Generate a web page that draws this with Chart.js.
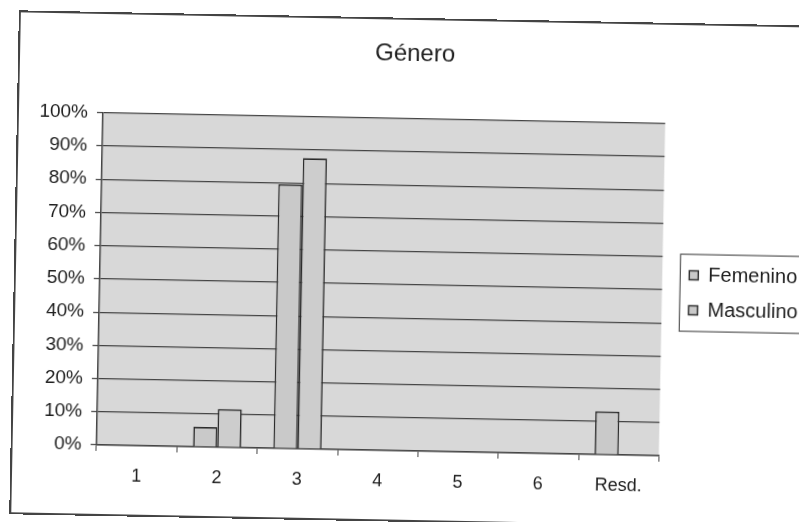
<!DOCTYPE html>
<html>
<head>
<meta charset="utf-8">
<script src="https://cdn.jsdelivr.net/npm/chart.js@4/dist/chart.umd.min.js"></script>
<style>
  html, body { margin: 0; padding: 0; background: #fff; overflow: hidden; }
  body { width: 799px; height: 522px; position: relative; }
  .frame {
    position: absolute; left: 16px; top: 20px;
    width: 830px; height: 500px;
    outline: 2px solid #444;
    transform: rotate(1.1deg);
    transform-origin: 400px 250px;
    background: #fff;
  }
</style>
</head>
<body>
<div class="frame"><canvas id="chartGenero" width="830" height="500"></canvas></div>
<script>
// ── Data ─────────────────────────────────────────────────────
const categories = ['1', '2', '3', '4', '5', '6', 'Resd.'];
const femenino   = [0, 6, 79.5, 0, 0, 0, 13];
const masculino  = [0, 11.5, 87.5, 0, 0, 0, 0];
const yTicks     = [0, 10, 20, 30, 40, 50, 60, 70, 80, 90, 100];

const FONT = "'Liberation Sans', Arial, sans-serif";
const INK  = '#1e1e1e';

// ── Plot background + legend box ─────────────────────────────
const excelLook = {
  id: 'excelLook',
  beforeDraw(chart) {
    const { ctx, chartArea: a } = chart;
    ctx.save();
    ctx.fillStyle = '#d8d8d8';
    ctx.fillRect(a.left, a.top, a.right - a.left, a.bottom - a.top);
    ctx.restore();
  },
  afterDraw(chart) {
    const hb = chart.legend && chart.legend.legendHitBoxes;
    if (!hb || !hb.length) return;
    const first = hb[0], last = hb[hb.length - 1];
    const w = Math.max(...hb.map(h => h.width));
    const ctx = chart.ctx;
    ctx.save();
    ctx.strokeStyle = '#555';
    ctx.lineWidth = 1.2;
    ctx.strokeRect(first.left - 9, first.top - 11, w + 34, last.top + last.height - first.top + 22);
    ctx.restore();
  }
};

const ctx = document.getElementById('chartGenero').getContext('2d');
new Chart(ctx, {
  type: 'bar',
  data: {
    labels: categories,
    datasets: [
      {
        label: 'Femenino',
        data: femenino,
        backgroundColor: '#c9c9c9',
        borderColor: '#2a2a2a',
        borderWidth: 1.6,
        borderSkipped: 'start',
      },
      {
        label: 'Masculino',
        data: masculino,
        backgroundColor: '#cdcdcd',
        borderColor: '#2a2a2a',
        borderWidth: 1.6,
        borderSkipped: 'start',
      }
    ]
  },
  options: {
    responsive: false,
    animation: false,
    layout: { padding: { left: 0, right: 40, top: 0, bottom: 0 } },
    datasets: { bar: { categoryPercentage: 0.6, barPercentage: 1.0 } },
    plugins: {
      title: {
        display: true,
        text: 'Género',
        color: INK,
        font: { family: FONT, size: 24, weight: 'normal' },
        padding: { top: 20, bottom: 50 },
      },
      legend: {
        position: 'right',
        title: {
          display: true,
          text: '',
          font: { family: FONT, size: 1 },
          padding: { top: 34, bottom: 0 }
        },
        labels: {
          color: INK,
          font: { family: FONT, size: 20, lineHeight: 1.0 },
          boxWidth: 9,
          boxHeight: 9,
          padding: 15,
          generateLabels(chart) {
            return chart.data.datasets.map((ds, i) => ({
              text: ds.label,
              fillStyle: '#c9c9c9',
              strokeStyle: '#333',
              lineWidth: 1.5,
              fontColor: INK,
              datasetIndex: i,
            }));
          }
        }
      },
      tooltip: { enabled: false }
    },
    scales: {
      x: {
        grid: { display: true, drawOnChartArea: false, drawTicks: true, tickLength: 6, color: '#444', offset: true },
        border: { display: true, color: '#444', width: 1.5 },
        ticks: { color: INK, font: { family: FONT, size: 18 }, padding: 14 },
        afterFit(s) { s.height = 69; }
      },
      y: {
        min: 0,
        max: 100,
        afterBuildTicks(s) { s.ticks = yTicks.map(v => ({ value: v })); },
        grid: { color: '#444', lineWidth: 1.2, drawTicks: true, tickLength: 6 },
        border: { display: true, color: '#444', width: 1.5 },
        ticks: {
          color: INK,
          font: { family: FONT, size: 19 },
          padding: 9,
          callback: v => v + '%'
        },
        afterFit(s) { s.width = 84; }
      },
      gap: {
        position: 'right',
        display: true,
        grid: { display: false },
        border: { display: false },
        ticks: { display: false },
        afterFit(s) { s.width = 12; }
      }
    }
  },
  plugins: [excelLook]
});
</script>
</body>
</html>
